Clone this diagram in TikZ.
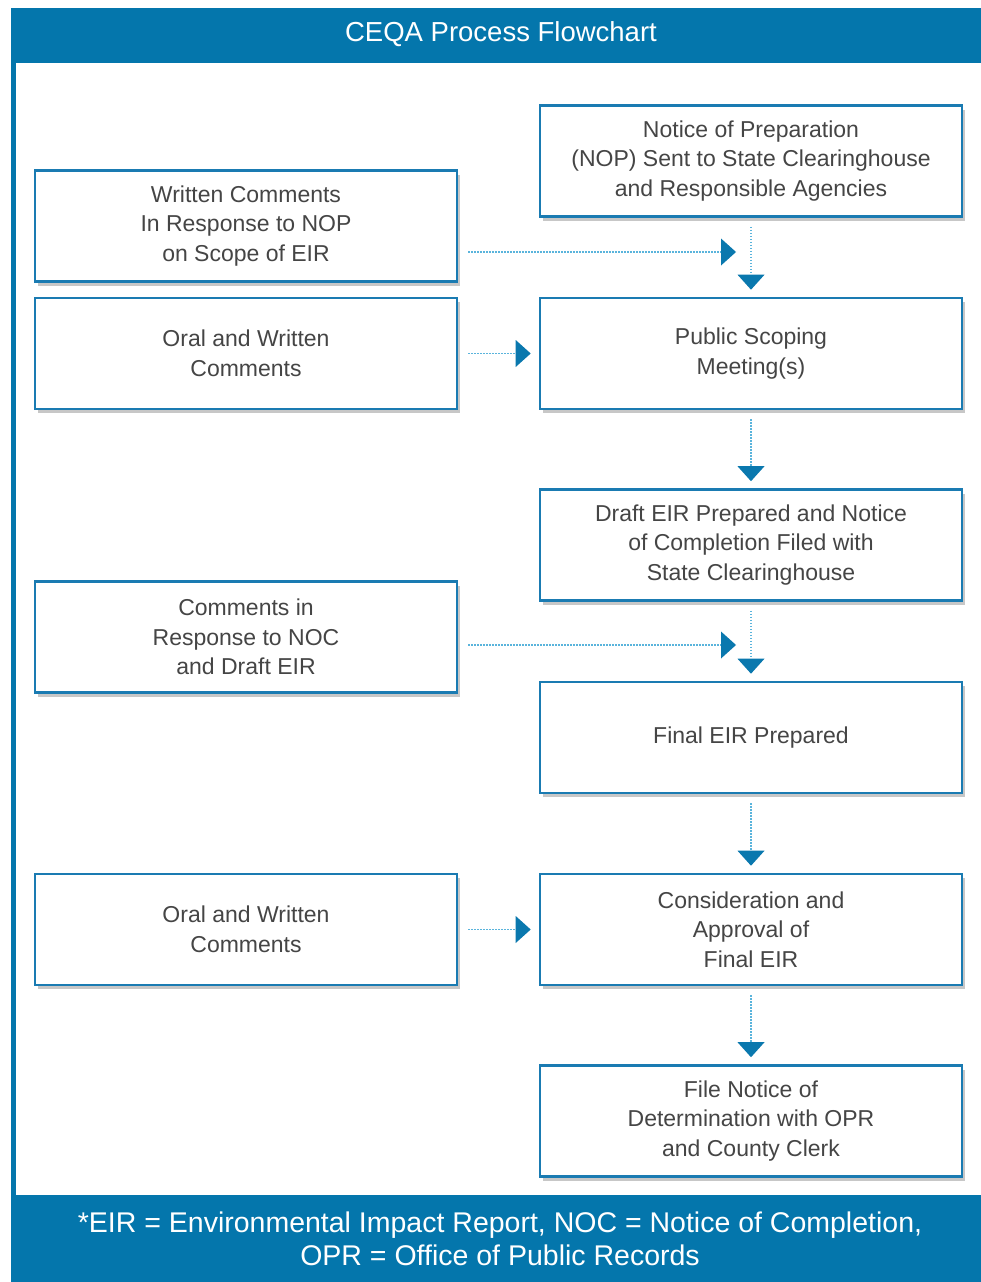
\documentclass[tikz,border=0pt]{standalone}
\usepackage{fontspec}
\setmainfont{Liberation Sans}
\usetikzlibrary{arrows.meta,shadows}
\definecolor{frameblue}{HTML}{0476AC}
\definecolor{boxblue}{HTML}{1A7BB2}
\definecolor{dotblue}{HTML}{5AB4DC}
\definecolor{tipblue}{HTML}{0A78AE}
\definecolor{textgray}{HTML}{454545}
\tikzset{
  flowbox/.style={draw=boxblue, line width=2.6pt, fill=white, minimum width=422pt, minimum height=111pt, inner sep=0pt, align=center, text=textgray, font=\fontsize{23}{29.5}\selectfont,
    drop shadow={shadow xshift=3pt, shadow yshift=-4pt, opacity=0.22, fill=black}},
  flowarrow/.style={draw=dotblue, line width=1.4pt, dash pattern=on 1.4pt off 1.6pt,
    -{Triangle[width=27pt,length=15pt,color=tipblue,fill=tipblue,line width=0pt]}},
}
\begin{document}
\begin{tikzpicture}[x=1pt,y=-1pt]
\useasboundingbox (0,0) rectangle (981,1282);
% frame
\fill[frameblue] (11,8) rectangle (981,1282);
\fill[white] (16,63) rectangle (981,1195);
\node[text=white, font=\fontsize{27.5}{30}\selectfont] (title) at (501,34) {CEQA Process Flowchart};
\node[text=white, align=center, font=\fontsize{28.5}{33}\selectfont] (foot) at (500,1239) {*EIR = Environmental Impact Report, NOC = Notice of Completion,\\OPR = Office of Public Records};
% boxes
\node[flowbox] (nop) at (751,161) {Notice of Preparation\\(NOP) Sent to State Clearinghouse\\and Responsible Agencies};
\node[flowbox] (wc) at (246,226) {Written Comments\\In Response to NOP\\on Scope of EIR};
\node[flowbox] (oc1) at (246,353.5) {Oral and Written\\Comments};
\node[flowbox] (ps) at (751,353.5) {Public Scoping\\Meeting(s)};
\node[flowbox] (draft) at (751,545) {Draft EIR Prepared and Notice\\of Completion Filed with\\State Clearinghouse};
\node[flowbox] (noc) at (246,637) {Comments in\\Response to NOC\\and Draft EIR};
\node[flowbox] (final) at (751,737.5) {Final EIR Prepared};
\node[flowbox] (oc2) at (246,929.5) {Oral and Written\\Comments};
\node[flowbox] (cons) at (751,929.5) {Consideration and\\Approval of\\Final EIR};
\node[flowbox] (file) at (751,1121) {File Notice of\\Determination with OPR\\and County Clerk};
% free ends of the side arrows
\coordinate (j1) at (736,252);
\coordinate (j2) at (736,645);
% connectors
\draw[flowarrow, shorten <=9pt, shorten >=7pt] (nop) -- (ps);
\draw[flowarrow, shorten <=9pt, shorten >=7pt] (ps) -- (draft);
\draw[flowarrow, shorten <=9pt, shorten >=7pt] (draft) -- (final);
\draw[flowarrow, shorten <=9pt, shorten >=7pt] (final) -- (cons);
\draw[flowarrow, shorten <=9pt, shorten >=7pt] (cons) -- (file);
\draw[flowarrow, shorten <=10pt] (wc.east |- j1) -- (j1);
\draw[flowarrow, shorten <=10pt] (noc.east |- j2) -- (j2);
\draw[flowarrow, shorten <=10pt, shorten >=8pt] (oc1) -- (ps);
\draw[flowarrow, shorten <=10pt, shorten >=8pt] (oc2) -- (cons);
\end{tikzpicture}
\end{document}
